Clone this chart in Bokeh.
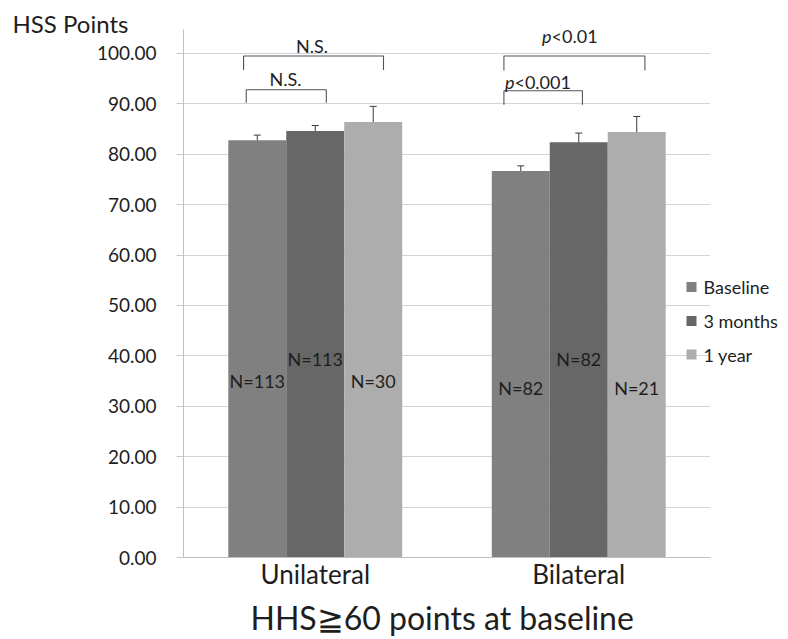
from bokeh.plotting import figure
from bokeh.models import (ColumnDataSource, FactorRange, Range1d, FixedTicker,
                          NumeralTickFormatter, Whisker, TeeHead, Label, Title,
                          BoxAnnotation)
from bokeh.transform import dodge
from bokeh.core.properties import value
from bokeh.embed import file_html
from bokeh.resources import INLINE

# ---------------- data ----------------
categories = ["Unilateral", "Bilateral"]
series = ["Baseline", "3 months", "1 year"]
baseline = [82.8, 76.7]
months3 = [84.6, 82.4]
year1 = [86.4, 84.4]
baseline_err = [1.0, 1.0]
months3_err = [1.1, 1.8]
year1_err = [3.1, 3.1]
n_baseline = [113, 82]
n_months3 = [113, 82]
n_year1 = [30, 21]
y_ticks = [0, 10, 20, 30, 40, 50, 60, 70, 80, 90, 100]

# significance brackets
bracket_group = ["Unilateral", "Unilateral", "Bilateral", "Bilateral"]
bracket_text = ["N.S.", "N.S.", "<0.001", "<0.01"]
bracket_prefix = ["", "", "p", "p"]
bracket_top = [92.8, 99.5, 92.6, 99.5]
bracket_foot = [90.2, 96.7, 89.8, 96.6]

# ---------------- styling ----------------
FONT = "Lato"
TXT = "#1e1e1e"
colors = ["#808080", "#676767", "#adadad"]
offsets = [-0.22, 0.0, 0.22]
bar_w = 0.22
n_label_y = [[35.0, 33.7], [39.4, 39.4], [35.0, 33.7]]
br_x0 = [-0.262, -0.272, -0.284, -0.284]
br_x1 = [0.042, 0.259, 0.014, 0.251]
br_tx = [-0.113, -0.012, -0.244, -0.103]
br_ty = [95.0, 101.5, 94.3, 103.4]
legend_y = [270.5, 236.5, 203.0]   # screen px above frame bottom

p = figure(x_range=FactorRange(*categories, range_padding=0),
           y_range=Range1d(0, 104.75),
           width=788, height=639, output_backend="svg", toolbar_location=None,
           min_border_left=183, min_border_right=78, min_border_top=28,
           min_border_bottom=82)
p.outline_line_color = None
p.background_fill_color = "white"

vals = [baseline, months3, year1]
errs = [baseline_err, months3_err, year1_err]
ns = [n_baseline, n_months3, n_year1]
for i, s in enumerate(series):
    src = ColumnDataSource(dict(
        x=categories, top=vals[i],
        upper=[v + e for v, e in zip(vals[i], errs[i])],
        lower=[v - e for v, e in zip(vals[i], errs[i])],
        nlab=["N=%d" % n for n in ns[i]],
        ly=n_label_y[i]))
    p.vbar(x=dodge("x", offsets[i], range=p.x_range), top="top", width=bar_w,
           source=src, fill_color=colors[i], line_color=None)
    w = Whisker(base=dodge("x", offsets[i], range=p.x_range), upper="upper",
                lower="lower", source=src, line_color="#3a3a3a", line_width=1,
                upper_head=TeeHead(size=7, line_color="#3a3a3a", line_width=1),
                lower_head=TeeHead(size=7, line_color="#3a3a3a", line_width=1))
    p.add_layout(w)
    p.text(x=dodge("x", offsets[i], range=p.x_range), y="ly", text="nlab", source=src,
           text_align="center", text_baseline="middle", text_font=value(FONT),
           text_font_size="18px", text_color=TXT)
    # legend square (inside the frame)
    p.add_layout(BoxAnnotation(left=503, right=513, bottom=legend_y[i] - 5,
                               top=legend_y[i] + 5, left_units="screen",
                               right_units="screen", top_units="screen",
                               bottom_units="screen", fill_color=colors[i],
                               fill_alpha=1, line_color=None, level="overlay"))

# legend texts: one multi-line label in the right panel (not clipped by the frame)
p.add_layout(Label(x=-7, y=legend_y[1], x_units="screen", y_units="screen",
                   text="\n".join(series), text_font=FONT, text_font_size="18px",
                   text_baseline="middle", text_color=TXT,
                   text_line_height=(legend_y[0] - legend_y[2]) / 2 / 21.6), "right")

# brackets
xs, ys = [], []
for g, a, b, t, f in zip(bracket_group, br_x0, br_x1, bracket_top, bracket_foot):
    c = categories.index(g) + 0.5
    xs.append([c + a, c + a, c + b, c + b])
    ys.append([f, t, t, f])
p.multi_line(xs=xs, ys=ys, line_color="#555555", line_width=1.1)

tx = [categories.index(g) + 0.5 + o for g, o in zip(bracket_group, br_tx)]
ns_idx = [k for k in range(4) if bracket_prefix[k] == ""]
p_idx = [k for k in range(4) if bracket_prefix[k] != ""]
p.text(x=[tx[k] for k in ns_idx], y=[br_ty[k] for k in ns_idx],
       text=[bracket_text[k] for k in ns_idx], text_align="center",
       text_baseline="middle", text_font=value(FONT), text_font_size="18px",
       text_color=TXT)
p.text(x=[tx[k] for k in p_idx], y=[br_ty[k] for k in p_idx],
       text=[bracket_prefix[k] for k in p_idx], text_align="right",
       text_baseline="middle", text_font=value(FONT), text_font_size="18px",
       text_font_style="italic", text_color=TXT)
p.text(x=[tx[k] for k in p_idx], y=[br_ty[k] for k in p_idx],
       text=[bracket_text[k] for k in p_idx], text_align="left",
       text_baseline="middle", text_font=value(FONT), text_font_size="18px",
       text_color=TXT)

# axes
p.yaxis.ticker = FixedTicker(ticks=y_ticks)
p.yaxis.formatter = NumeralTickFormatter(format="0.00")
p.yaxis.major_label_text_font = FONT
p.yaxis.major_label_text_font_size = "19px"
p.yaxis.major_label_text_color = TXT
p.yaxis.major_tick_out = 7
p.yaxis.major_tick_in = 0
p.yaxis.minor_tick_line_color = None
p.yaxis.major_tick_line_color = "#c8c8c8"
p.yaxis.axis_line_color = "#c0c0c0"
p.yaxis.major_label_standoff = 20

p.xaxis.major_label_text_font = FONT
p.xaxis.major_label_text_font_size = "26px"
p.xaxis.major_label_text_color = TXT
p.xaxis.major_tick_out = 0
p.xaxis.major_tick_in = 0
p.xaxis.major_tick_line_color = None
p.xaxis.axis_line_color = "#c0c0c0"
p.xaxis.major_label_standoff = 0

p.xgrid.grid_line_color = None
p.ygrid.grid_line_color = "#d4d4d4"

p.add_layout(Label(x=-171, y=6, x_units="screen", y_units="screen",
                   text="HSS Points", text_font=FONT, text_font_size="24px",
                   text_baseline="middle", text_color=TXT, text_line_height=1.0),
             "above")

p.add_layout(Title(text="HHS≧60 points at baseline", align="left",
                   text_font=FONT, text_font_size="32px", text_font_style="normal",
                   text_color=TXT, standoff=6, offset=67, text_line_height=1.0),
             "below")

open("out.html", "w").write(file_html(p, INLINE))
